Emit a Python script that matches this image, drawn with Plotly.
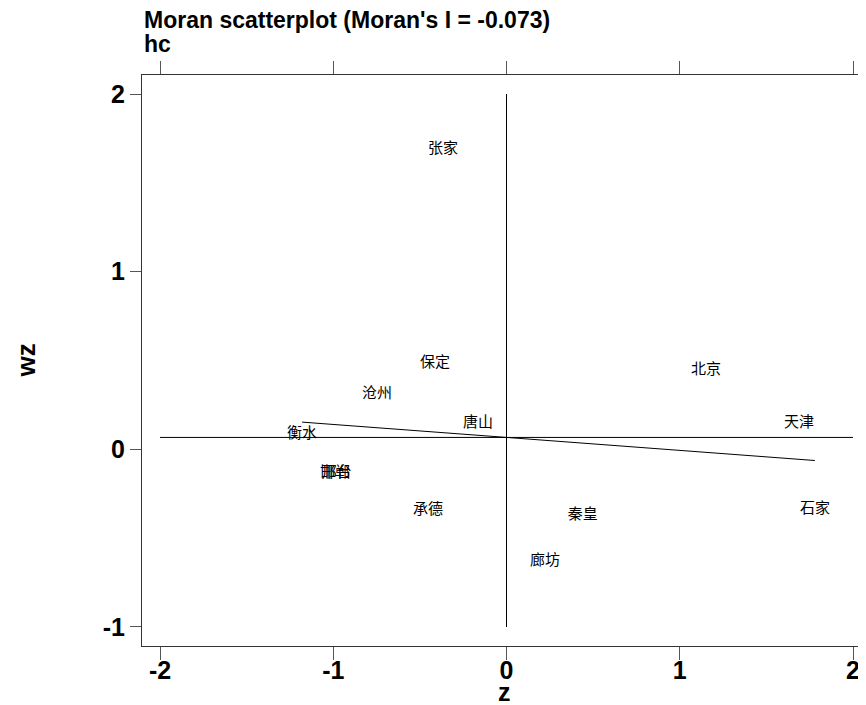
import plotly.graph_objects as go

# Data
cities = ["张家", "保定", "北京", "沧州", "唐山", "天津", "衡水", "邯郸", "邢台", "承德", "秦皇", "石家", "廊坊"]
z_vals = [-0.367, -0.413, 1.151, -0.747, -0.165, 1.688, -1.180, -0.990, -0.980, -0.453, 0.440, 1.780, 0.222]
wz_vals = [1.690, 0.483, 0.444, 0.309, 0.146, 0.146, 0.084, -0.135, -0.135, -0.343, -0.371, -0.337, -0.629]
morans_i = -0.073
mean_z = 0.0
mean_wz = 0.067
x_ticks = [-2, -1, 0, 1, 2]
y_ticks = [-1, 0, 1, 2]
title_main = "Moran scatterplot (Moran's I = -0.073)"
title_sub = "hc"

# page body has an 8px margin; figure sized so the plot lands where the reference has it
W, H = 858, 697
ML, MR, MT, MB = 134, 0, 67, 59
PW, PH = W - ML - MR, H - MT - MB

fig = go.Figure()

fig.add_trace(go.Scatter(
    x=z_vals, y=wz_vals, mode="text", text=cities,
    textposition="middle center",
    textfont=dict(family="Noto Sans CJK SC", size=15, color="black"),
    hoverinfo="skip", showlegend=False))

fig.add_trace(go.Scatter(x=[x_ticks[0], x_ticks[-1]], y=[mean_wz, mean_wz], mode="lines",
                         line=dict(color="black", width=1), showlegend=False, hoverinfo="skip"))
fig.add_trace(go.Scatter(x=[mean_z, mean_z], y=[y_ticks[0], y_ticks[-1]], mode="lines",
                         line=dict(color="black", width=1), showlegend=False, hoverinfo="skip"))

zmin, zmax = min(z_vals), max(z_vals)
reg_x = [zmin, zmax]
reg_y = [mean_wz + morans_i * (v - mean_z) for v in reg_x]
fig.add_trace(go.Scatter(x=reg_x, y=reg_y, mode="lines",
                         line=dict(color="black", width=1), showlegend=False, hoverinfo="skip"))

axis_font = dict(family="Liberation Sans, Arial", size=25, color="black")
label_font = dict(family="Liberation Sans, Arial", size=26, color="black")
z_font = dict(family="Liberation Sans, Arial", size=25, color="black")
title_font = dict(family="Liberation Sans, Arial", size=23, color="black")

annotations = [
    dict(text=f"<b>{title_main}</b>", xref="paper", yref="paper", x=0, y=1,
         xanchor="left", yanchor="middle", yshift=55, showarrow=False, font=title_font),
    dict(text=f"<b>{title_sub}</b>", xref="paper", yref="paper", x=0, y=1,
         xanchor="left", yanchor="middle", yshift=31, showarrow=False, font=title_font),
    dict(text="<b>z</b>", xref="paper", yref="paper", x=0.5, y=0,
         xanchor="center", yanchor="middle", yshift=-46, showarrow=False, font=z_font),
    dict(text="<b>wz</b>", xref="paper", yref="paper", x=(17 - ML) / PW, y=0.5,
         xanchor="center", yanchor="middle", textangle=-90, showarrow=False, font=label_font),
]

fig.update_layout(
    width=W, height=H,
    margin=dict(l=ML, r=MR, t=MT, b=MB, pad=0),
    paper_bgcolor="white", plot_bgcolor="white",
    annotations=annotations,
    xaxis=dict(range=[-2.104, 2.075], tickvals=x_ticks, ticktext=[f"<b>{t}</b>" for t in x_ticks],
               showgrid=False, zeroline=False, showline=True, linecolor="#333", linewidth=1,
               mirror="ticks", ticks="outside", ticklen=13, tickcolor="#555",
               tickfont=axis_font, ticklabelstandoff=-11),
    yaxis=dict(range=[-1.107, 2.107], tickvals=y_ticks, ticktext=[f"<b>{t}</b>" for t in y_ticks],
               showgrid=False, zeroline=False, showline=True, linecolor="#333", linewidth=1,
               ticks="outside", ticklen=11, tickcolor="#555",
               tickfont=axis_font),
)

fig.write_html("out.html")
